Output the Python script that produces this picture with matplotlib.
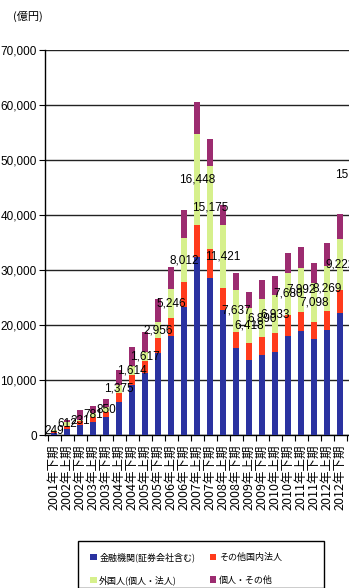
import numpy as np
import matplotlib
matplotlib.use('Agg')
import matplotlib.pyplot as plt
import matplotlib.ticker as ticker
from matplotlib.patches import Rectangle
import logging
logging.getLogger('matplotlib.font_manager').setLevel(logging.ERROR)

plt.rcParams['font.family'] = ['Liberation Sans', 'Noto Sans CJK JP', 'DejaVu Sans']

##==============================================
# data (億円)
##==============================================
periods = ['2001年下期', '2002年上期', '2002年下期', '2003年上期', '2003年下期',
           '2004年上期', '2004年下期', '2005年上期', '2005年下期', '2006年上期',
           '2006年下期', '2007年上期', '2007年下期', '2008年上期', '2008年下期',
           '2009年上期', '2009年下期', '2010年上期', '2010年下期', '2011年上期',
           '2011年下期', '2012年上期', '2012年下期', '2013年上期']

fin = [400, 1100, 1800, 2400, 3300, 6000, 9100, 11300, 14900, 18000, 23300, 32300,
       28500, 22700, 15800, 13600, 14500, 15100, 18000, 18900, 17500, 19100, 22100, 30000]
corp = [200, 600, 700, 900, 900, 1700, 1800, 2200, 2700, 3300, 4500, 5900,
        5300, 4000, 3000, 3100, 3300, 3400, 3800, 3500, 3000, 3400, 4300, 9700]
foreign = [249, 612, 231, 781, 850, 1375, 1614, 1617, 2956, 5246, 8012, 16448,
           15175, 11421, 7637, 6418, 6890, 6933, 7680, 7992, 7098, 8269, 9222, 15146]
indiv = [100, 390, 1770, 1220, 1450, 2830, 3490, 3580, 4140, 3950, 5090, 5950,
         4830, 3680, 2960, 2880, 3510, 3470, 3620, 3810, 3700, 4130, 4480, 7150]

labels = ['金融機関(証券会社含む)', 'その他国内法人', '外国人(個人・法人)', '個人・その他']
pal = ['#2a32a0', '#ff3b1c', '#d6f08c', '#9c2c70']

##==============================================
fig = plt.figure(figsize=(3.49, 5.88), dpi=100)
W, H = 349.0, 588.0
unit = 13.0  # px per category
x0 = -0.7
x1 = 24.5
ax = fig.add_axes([45 / W, 153 / H, (x1 - x0) * unit / W, 385 / H])

x = np.arange(len(periods))
fin = np.array(fin)
corp = np.array(corp)
foreign = np.array(foreign)
indiv = np.array(indiv)

w = 0.45
b1 = ax.bar(x, fin, w, color=pal[0], label=labels[0], zorder=3)
b2 = ax.bar(x, corp, w, bottom=fin, color=pal[1], label=labels[1], zorder=3)
b3 = ax.bar(x, foreign, w, bottom=fin + corp, color=pal[2], label=labels[2], zorder=3)
b4 = ax.bar(x, indiv, w, bottom=fin + corp + foreign, color=pal[3], label=labels[3], zorder=3)

ax.bar_label(b3, labels=['{:,}'.format(v) for v in foreign], label_type='center',
             fontsize=8.5, color='black', zorder=4)

ax.set_xlim(x0, x1)
ax.set_ylim(0, 70000)
ax.yaxis.set_major_locator(ticker.MultipleLocator(10000))
ax.yaxis.set_major_formatter(ticker.FuncFormatter(lambda v, p: '{:,}'.format(int(v))))
ax.grid(axis='y', color='#222222', linewidth=1.0, zorder=1)
ax.set_axisbelow(True)

# last period is cut off by the page edge, so no label for it
ax.set_xticks(x[:-1])
ax.set_xticklabels(periods[:-1], rotation=90, family=['Noto Sans CJK JP'], fontsize=9)
ax.set_xticks(np.arange(-0.5, len(periods), 1), minor=True)
ax.tick_params(axis='x', which='major', length=0, pad=7)
ax.tick_params(axis='x', which='minor', length=4, direction='out', width=0.8)
ax.tick_params(axis='y', length=4, direction='out', labelsize=8.5, pad=2)

for s in ['top', 'right']:
    ax.spines[s].set_visible(False)
ax.spines['left'].set_linewidth(1.0)
ax.spines['bottom'].set_linewidth(1.0)

fig.text(13 / W, 1 - 16 / H, '(億円)', family=['Noto Sans CJK JP'], fontsize=8,
         va='center', ha='left')

# legend (box drawn separately so it can be wider than its entries)
hs = [b1, b3, b2, b4]
ls = [labels[0], labels[2], labels[1], labels[3]]
leg = fig.legend(hs, ls, ncol=2, loc='upper left',
                 bbox_to_anchor=(80 / W, 46 / H),
                 prop={'family': 'Noto Sans CJK JP', 'size': 6.5},
                 handlelength=0.7, handleheight=0.7, handletextpad=0.3,
                 labelspacing=1.48, borderpad=0.63, columnspacing=1.6,
                 frameon=False)
fig.patches.append(Rectangle((78 / W, 0.5 / H), 246 / W, 47 / H, transform=fig.transFigure,
                             fill=False, edgecolor='black', linewidth=1.0))

plt.savefig('out.png', dpi=100)
